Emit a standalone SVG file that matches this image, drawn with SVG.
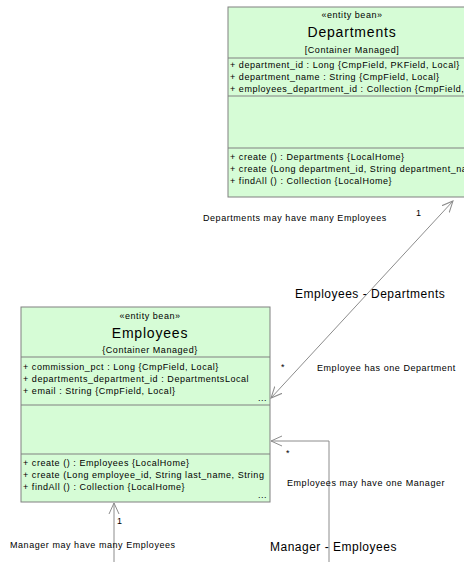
<svg xmlns="http://www.w3.org/2000/svg" width="464" height="562" viewBox="0 0 464 562">
<style>
.box{fill:#d6fcd6;stroke:#808080;stroke-width:1}
.sep{stroke:#808080;stroke-width:1}
.t{font-family:"Liberation Sans",Arial,sans-serif;font-size:9px;fill:#000;letter-spacing:0.55px}
.c{text-anchor:middle}
.title{font-family:"Liberation Sans",Arial,sans-serif;font-size:14px;fill:#000;text-anchor:middle;letter-spacing:0.8px}
.lbl{font-family:"Liberation Sans",Arial,sans-serif;font-size:12px;fill:#000;letter-spacing:0.5px}
.con{fill:none;stroke:#8c8c8c;stroke-width:1}
</style>
<defs>
<marker id="open" viewBox="0 0 12 12" refX="11" refY="6" markerWidth="12" markerHeight="12" markerUnits="userSpaceOnUse" orient="auto-start-reverse">
<path d="M0,1 L11,6 L0,11" fill="none" stroke="#8c8c8c" stroke-width="1"/>
</marker>
<clipPath id="clipE"><rect x="21" y="307" width="249" height="195"/></clipPath>
<clipPath id="clipD"><rect x="228" y="7" width="246" height="190"/></clipPath>
</defs>
<rect width="464" height="562" fill="#fff"/>

<g id="connectors">
<line class="con" x1="271" y1="398" x2="453" y2="201" marker-start="url(#open)" marker-end="url(#open)"/>
<line class="con" x1="114" y1="562" x2="114" y2="503" marker-end="url(#open)"/>
<polyline class="con" points="329,562 329,441 271,441" marker-end="url(#open)"/>
<text class="t" x="203" y="221">Departments may have many Employees</text>
<text class="t" x="416" y="216">1</text>
<text class="lbl" x="295" y="298">Employees - Departments</text>
<text class="t" x="281" y="370">*</text>
<text class="t" x="317" y="371">Employee has one Department</text>
<text class="t" x="286" y="456">*</text>
<text class="t" x="287" y="486">Employees may have one Manager</text>
<text class="lbl" x="270" y="551">Manager - Employees</text>
<text class="t" x="117" y="524">1</text>
<text class="t" x="10" y="548">Manager may have many Employees</text>
</g>

<g id="Departments">
<rect class="box" x="228" y="7" width="246" height="190"/>
<line class="sep" x1="228" y1="58" x2="474" y2="58"/>
<line class="sep" x1="228" y1="96" x2="474" y2="96"/>
<line class="sep" x1="228" y1="148" x2="474" y2="148"/>
<g clip-path="url(#clipD)">
<text class="t c" x="352" y="18">«entity bean»</text>
<text class="title" x="352" y="37">Departments</text>
<text class="t c" x="352" y="53">[Container Managed]</text>
<text class="t" x="230" y="68">+ department_id  : Long {CmpField, PKField, Local}</text>
<text class="t" x="230" y="80">+ department_name  : String {CmpField, Local}</text>
<text class="t" x="230" y="92">+ employees_department_id  : Collection {CmpField, Local}</text>
<text class="t" x="230" y="160">+ create () : Departments {LocalHome}</text>
<text class="t" x="230" y="172">+ create (Long department_id, String department_name)</text>
<text class="t" x="230" y="184">+ findAll () : Collection {LocalHome}</text>
</g>
</g>

<g id="Employees">
<rect class="box" x="21" y="307" width="249" height="195"/>
<line class="sep" x1="21" y1="357" x2="270" y2="357"/>
<line class="sep" x1="21" y1="405" x2="270" y2="405"/>
<line class="sep" x1="21" y1="454" x2="270" y2="454"/>
<g clip-path="url(#clipE)">
<text class="t c" x="150" y="319">«entity bean»</text>
<text class="title" x="150" y="338">Employees</text>
<text class="t c" x="150" y="353">{Container Managed}</text>
<text class="t" x="23" y="370">+ commission_pct  : Long {CmpField, Local}</text>
<text class="t" x="23" y="382">+ departments_department_id  : DepartmentsLocal</text>
<text class="t" x="23" y="394">+ email  : String {CmpField, Local}</text>
<text class="t" x="258" y="401">...</text>
<text class="t" x="23" y="466">+ create () : Employees {LocalHome}</text>
<text class="t" x="23" y="478">+ create (Long employee_id, String last_name, String</text>
<text class="t" x="23" y="490">+ findAll () : Collection {LocalHome}</text>
<text class="t" x="258" y="498">...</text>
</g>
</g>
</svg>
